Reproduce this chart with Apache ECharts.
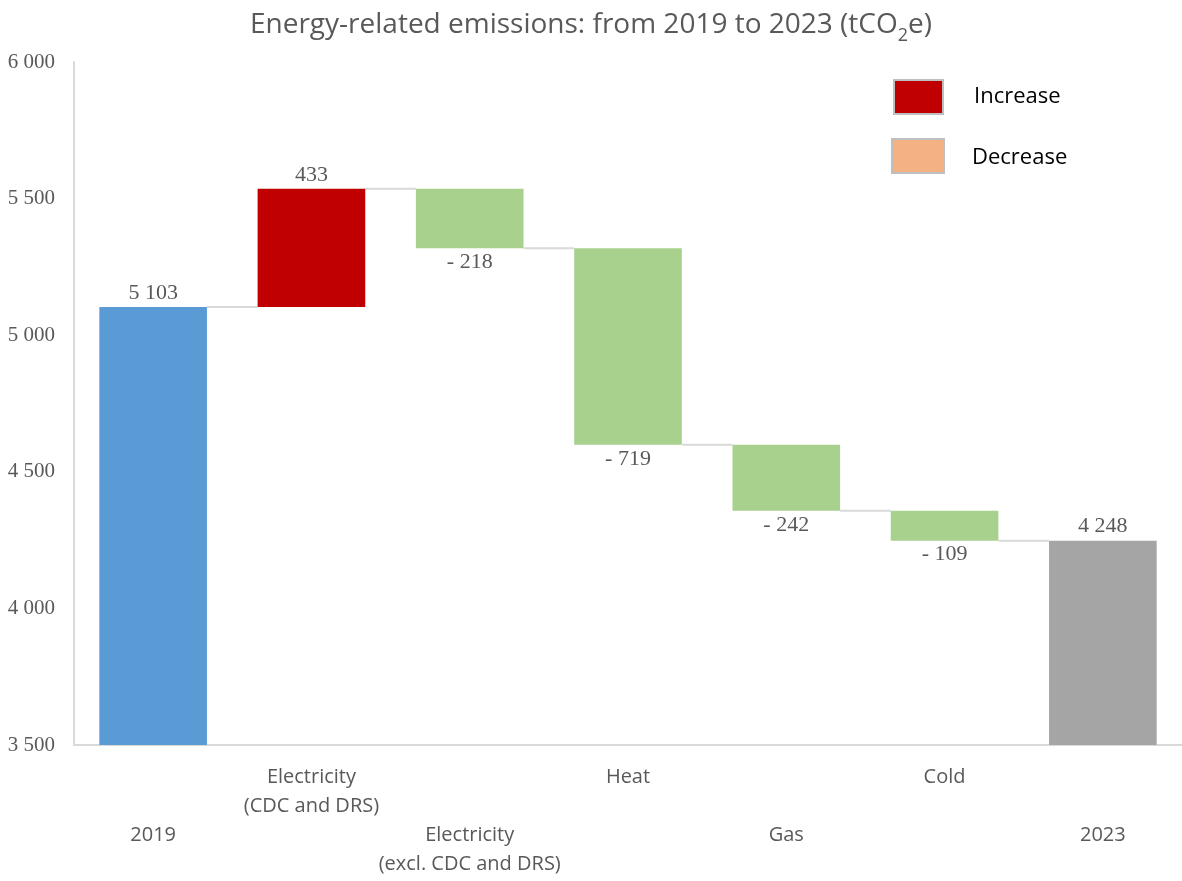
<!DOCTYPE html>
<html>
<head>
<meta charset="utf-8">
<script src="https://cdn.jsdelivr.net/npm/echarts@6/dist/echarts.min.js"></script>
<style>
  html, body { margin: 0; padding: 0; background: #fff; }
  #chart { width: 1182px; height: 881px; }
</style>
</head>
<body>
<div id="chart"></div>
<script>
// Waterfall of energy-related emissions (tCO2e), 2019 -> 2023
const categories = ['2019', 'Electricity\n(CDC and DRS)', 'Electricity\n(excl. CDC and DRS)', 'Heat', 'Gas', 'Cold', '2023'];
const startTotal = 5103;
const changes = [433, -218, -719, -242, -109];   // one per step between the two totals
const endTotal = 4248;
const yTicks = [3500, 4000, 4500, 5000, 5500, 6000];

const COLORS = {
  start: '#5B9BD5',
  end: '#A5A5A5',
  up: '#C00000',
  down: '#A9D18E',
  legendDown: '#F4B183',
  connector: '#D9D9D9',
  text: '#595959'
};
const BAR_RATIO = 0.68;
const serif = '"Liberation Serif", "DejaVu Serif", serif';
const sans = '"Open Sans", "Noto Sans", sans-serif';

function fmtThousands(v) {
  return String(Math.abs(v)).replace(/\B(?=(\d{3})+(?!\d))/g, ' ');
}

// Build invisible bases, visible bar heights and running levels
const base = [0];
const visible = [{ value: startTotal, itemStyle: { color: COLORS.start }, label: { position: 'top', formatter: fmtThousands(startTotal) } }];
const levels = [startTotal];
let run = startTotal;
changes.forEach(function (d) {
  const next = run + d;
  base.push(Math.min(run, next));
  visible.push({
    value: Math.abs(d),
    itemStyle: { color: d >= 0 ? COLORS.up : COLORS.down },
    label: d >= 0
      ? { position: 'top', formatter: fmtThousands(d) }
      : { position: 'bottom', formatter: '- ' + fmtThousands(d) }
  });
  run = next;
  levels.push(run);
});
base.push(0);
visible.push({ value: endTotal, itemStyle: { color: COLORS.end }, label: { position: 'top', formatter: fmtThousands(endTotal) } });

// connector segments: from bar i to bar i+1 at running level after bar i
const connectors = levels.map(function (lv, i) { return [i, lv]; });

const chart = echarts.init(document.getElementById('chart'), null, { renderer: 'canvas' });
chart.setOption({
  animation: false,
  backgroundColor: '#ffffff',
  title: {
    text: '{a|Energy-related emissions: from 2019 to 2023 (tCO}{s|2}{a|e)}',
    left: 'center',
    top: 0,
    textStyle: {
      fontWeight: 'normal',
      rich: {
        a: { fontFamily: sans, fontSize: 28, fontWeight: 'normal', color: COLORS.text, lineHeight: 40 },
        s: { fontFamily: sans, fontSize: 18, fontWeight: 'normal', color: COLORS.text, lineHeight: 25, verticalAlign: 'bottom' }
      }
    }
  },
  grid: { left: 74, right: 0, top: 62, bottom: 136, containLabel: false },
  xAxis: {
    type: 'category',
    data: categories,
    axisLine: { show: true, lineStyle: { color: COLORS.connector, width: 2 } },
    axisTick: { show: false },
    axisLabel: {
      interval: 0,
      margin: 18,
      fontFamily: sans,
      fontSize: 20,
      color: COLORS.text,
      lineHeight: 29,
      align: 'center',
      formatter: function (val, idx) {
        return idx % 2 === 0 ? '\n\n' + val : val;
      }
    }
  },
  yAxis: {
    type: 'value',
    min: yTicks[0],
    max: yTicks[yTicks.length - 1],
    interval: 500,
    axisLine: { show: true, lineStyle: { color: COLORS.connector, width: 2 } },
    axisTick: { show: false },
    splitLine: { show: false },
    axisLabel: {
      margin: 19,
      fontFamily: serif,
      fontSize: 21,
      color: COLORS.text,
      formatter: function (v) { return fmtThousands(v); }
    }
  },
  series: [
    {
      type: 'bar',
      stack: 'wf',
      data: base,
      itemStyle: { color: 'transparent' },
      barCategoryGap: '32%',
      silent: true,
      label: { show: false }
    },
    {
      type: 'bar',
      stack: 'wf',
      data: visible,
      barCategoryGap: '32%',
      label: {
        show: true,
        fontFamily: serif,
        fontSize: 22,
        color: COLORS.text,
        distance: 3
      }
    },
    {
      type: 'custom',
      data: connectors,
      z: 1,
      renderItem: function (params, api) {
        const i = api.value(0);
        const lv = api.value(1);
        if (i >= categories.length - 1) return null;
        const p0 = api.coord([i, lv]);
        const p1 = api.coord([i + 1, lv]);
        const bw = api.size([1, 0])[0] * BAR_RATIO;
        return {
          type: 'line',
          shape: { x1: p0[0] + bw / 2, y1: p0[1], x2: p1[0] - bw / 2, y2: p1[1] },
          style: { stroke: COLORS.connector, lineWidth: 2 }
        };
      }
    }
  ],
  graphic: [
    { type: 'rect', shape: { x: 894, y: 80, width: 49, height: 34 }, style: { fill: COLORS.up, stroke: '#BFBFBF', lineWidth: 2 } },
    { type: 'text', x: 974, y: 97, style: { text: 'Increase', fontFamily: sans, fontSize: 22, fill: '#000000', verticalAlign: 'middle' } },
    { type: 'rect', shape: { x: 892, y: 139, width: 52, height: 34 }, style: { fill: COLORS.legendDown, stroke: '#BFBFBF', lineWidth: 2 } },
    { type: 'text', x: 972, y: 158, style: { text: 'Decrease', fontFamily: sans, fontSize: 22, fill: '#000000', verticalAlign: 'middle' } }
  ]
});
</script>
</body>
</html>
